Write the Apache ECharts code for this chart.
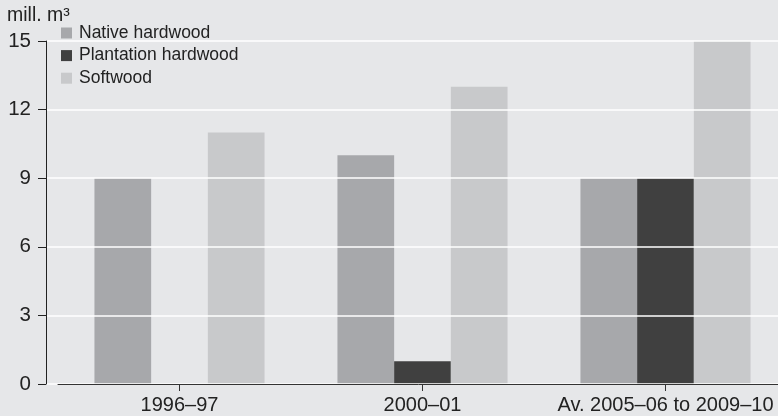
<!DOCTYPE html>
<html>
<head>
<meta charset="utf-8">
<script src="https://cdn.jsdelivr.net/npm/echarts@6/dist/echarts.min.js"></script>
<style>
html,body{margin:0;padding:0;background:#e6e7e9;}
#c{width:778px;height:416px;}
</style>
</head>
<body>
<div id="c"></div>
<script>
const categories = ['1996–97', '2000–01', 'Av. 2005–06 to 2009–10'];
const nativeHardwood = [9, 10, 9];
const plantationHardwood = [null, 1, 9];
const softwood = [11, 13, 15];
const seriesNames = ['Native hardwood', 'Plantation hardwood', 'Softwood'];
const unitLabel = 'mill. m³';
const yMin = 0, yMax = 15, yStep = 3;

const FONT = '"Liberation Sans", Arial, sans-serif';
const TXT = '#222222';
const colors = ['#a7a8ab', '#404040', '#c8c9cb'];

const chart = echarts.init(document.getElementById('c'), null, {renderer: 'canvas'});
chart.setOption({
  backgroundColor: '#e6e7e9',
  animation: false,
  textStyle: {fontFamily: FONT, color: TXT},
  title: {
    text: unitLabel, left: 7, top: 6, padding: 0,
    textStyle: {fontFamily: FONT, fontSize: 19.5, fontWeight: 'normal', color: TXT}
  },
  legend: {
    orient: 'vertical', left: 61, top: 24, padding: 0,
    itemWidth: 11, itemHeight: 11, itemGap: 4.6,
    icon: 'rect',
    data: seriesNames,
    textStyle: {fontFamily: FONT, fontSize: 17.5, color: TXT, lineHeight: 17, padding: [0, 0, 0, 2]}
  },
  grid: [
    {left: 46, width: 732, top: 41, bottom: 32, outerBoundsMode: 'none', containLabel: false},
    {left: 58, width: 729, top: 41, bottom: 32, outerBoundsMode: 'none', containLabel: false}
  ],
  xAxis: [
    {gridIndex: 0, type: 'value', show: false, min: 0, max: 1},
    {
      gridIndex: 1, type: 'category', data: categories, z: 6,
      axisLine: {lineStyle: {color: '#333', width: 1}},
      axisTick: {show: true, alignWithLabel: true, length: 7, lineStyle: {color: '#333'}},
      axisLabel: {fontFamily: FONT, fontSize: 20, color: TXT, margin: 11, interval: 0}
    }
  ],
  yAxis: [
    {
      gridIndex: 0, type: 'value', min: yMin, max: yMax, interval: yStep, z: 4,
      axisLine: {show: true, lineStyle: {color: '#222', width: 1}},
      axisTick: {show: true, length: 8, lineStyle: {color: '#222'}},
      axisLabel: {fontFamily: FONT, fontSize: 20.5, color: TXT, margin: 15},
      splitLine: {show: true, lineStyle: {color: '#ffffff', width: 1.5}}
    },
    {
      gridIndex: 1, type: 'value', min: yMin, max: yMax, interval: yStep, show: false,
      splitLine: {show: false}
    }
  ],
  series: [
    {name: seriesNames[0], type: 'bar', xAxisIndex: 1, yAxisIndex: 1, data: nativeHardwood,
     itemStyle: {color: colors[0]}, barGap: '0%', barCategoryGap: '30%', z: 2},
    {name: seriesNames[1], type: 'bar', xAxisIndex: 1, yAxisIndex: 1, data: plantationHardwood,
     itemStyle: {color: colors[1]}, barGap: '0%', barCategoryGap: '30%', z: 2},
    {name: seriesNames[2], type: 'bar', xAxisIndex: 1, yAxisIndex: 1, data: softwood,
     itemStyle: {color: colors[2]}, barGap: '0%', barCategoryGap: '30%', z: 2}
  ]
});
</script>
</body>
</html>
